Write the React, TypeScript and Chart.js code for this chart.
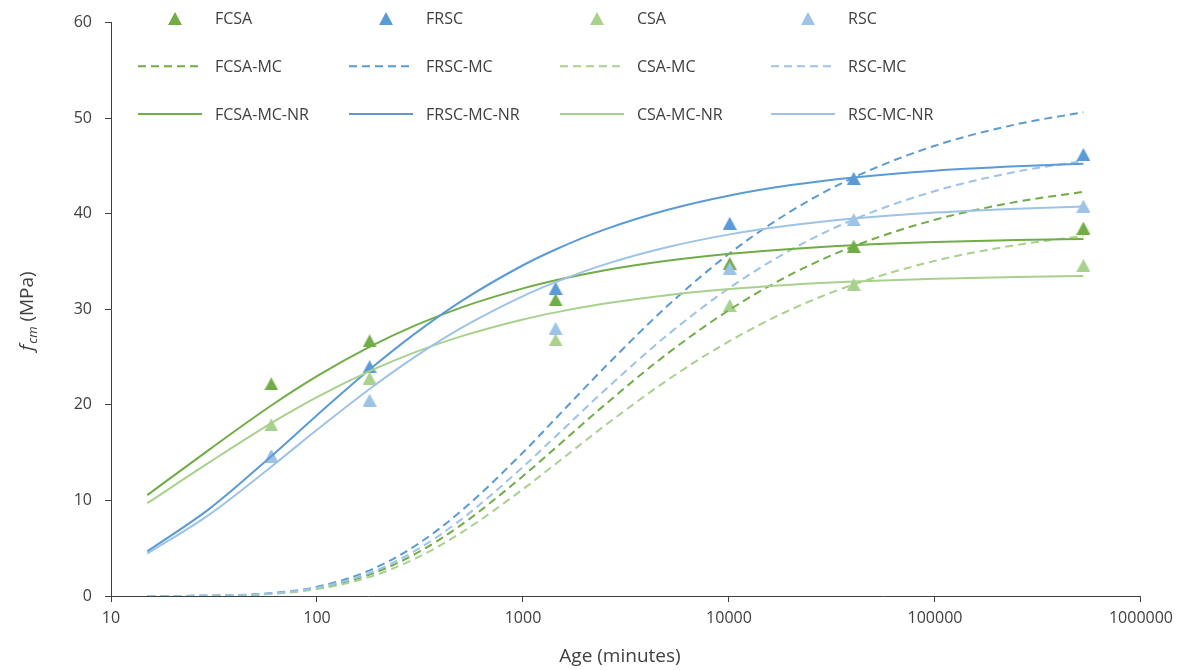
import React, { useEffect, useRef } from "react";
import { Chart, registerables } from "chart.js";

Chart.register(...registerables);

// Test ages (minutes) and measured strengths (MPa)
const AGE_TEST = [60, 180, 1440, 10080, 40320, 525600];
const FCSA = [22.2, 26.7, 31.0, 34.8, 36.6, 38.5];
const FRSC = [14.6, 24.0, 32.2, 39.0, 43.7, 46.2];
const CSA = [17.9, 22.8, 26.8, 30.4, 32.6, 34.6];
const RSC = [14.6, 20.5, 28.0, 34.3, 39.4, 40.8];

// Model curves (minutes)
const AGE_MODEL = [15, 30, 60, 100, 180, 300, 500, 1000, 1440, 2500, 5000, 10080, 20000, 40320, 100000, 250000, 525600];
const FCSA_MC = [0.0, 0.03, 0.25, 0.81, 2.24, 4.4, 7.42, 12.55, 15.51, 20.02, 25.33, 29.96, 33.65, 36.6, 39.37, 41.25, 42.29];
const FRSC_MC = [0.0, 0.03, 0.3, 0.96, 2.68, 5.26, 8.88, 15.02, 18.57, 23.96, 30.31, 35.86, 40.27, 43.8, 47.12, 49.37, 50.62];
const CSA_MC = [0.0, 0.03, 0.22, 0.72, 1.99, 3.92, 6.61, 11.18, 13.82, 17.84, 22.56, 26.69, 29.98, 32.6, 35.07, 36.74, 37.67];
const RSC_MC = [0.0, 0.03, 0.27, 0.87, 2.41, 4.74, 7.99, 13.51, 16.7, 21.56, 27.27, 32.26, 36.23, 39.4, 42.38, 44.41, 45.53];
const FCSA_MC_NR = [10.56, 15.32, 19.93, 23.0, 26.06, 28.31, 30.18, 32.19, 33.04, 34.09, 35.08, 35.81, 36.32, 36.7, 37.03, 37.24, 37.36];
const FRSC_MC_NR = [4.67, 9.12, 14.63, 18.92, 23.69, 27.48, 30.83, 34.61, 36.26, 38.36, 40.39, 41.91, 43.0, 43.8, 44.51, 44.97, 45.22];
const CSA_MC_NR = [9.71, 13.98, 18.09, 20.81, 23.53, 25.52, 27.17, 28.94, 29.68, 30.6, 31.48, 32.12, 32.57, 32.9, 33.19, 33.38, 33.48];
const RSC_MC_NR = [4.43, 8.52, 13.53, 17.39, 21.66, 25.05, 28.03, 31.38, 32.84, 34.7, 36.49, 37.84, 38.79, 39.5, 40.12, 40.53, 40.75];

const X_TICKS = [10, 100, 1000, 10000, 100000, 1000000];
const Y_MIN = 0;
const Y_MAX = 60;
const Y_STEP = 10;

const X_TITLE = "Age (minutes)";
const Y_TITLE_MAIN = "f";
const Y_TITLE_SUB = "cm";
const Y_TITLE_REST = " (MPa)";

const C_FCSA = "#70AD47";
const C_FRSC = "#5B9BD5";
const C_CSA = "#A9D18E";
const C_RSC = "#9DC3E6";
const TEXT = "#404040";
const AXIS = "#3f3f3f";
const FONT = "'Open Sans'";

function triangle(color: string): HTMLCanvasElement {
  const c = document.createElement("canvas");
  c.width = 14;
  c.height = 13;
  const ctx = c.getContext("2d")!;
  ctx.fillStyle = color;
  ctx.beginPath();
  ctx.moveTo(7, 0);
  ctx.lineTo(14, 13);
  ctx.lineTo(0, 13);
  ctx.closePath();
  ctx.fill();
  return c;
}

const pts = (xs: number[], ys: number[]) => xs.map((x, i) => ({ x, y: ys[i] }));

const legendPlugin = {
  id: "gridLegend",
  afterDraw(chart: any) {
    const ctx = chart.ctx as CanvasRenderingContext2D;
    const ds = chart.data.datasets as any[];
    ctx.save();
    ctx.font = `16px ${FONT}`;
    ctx.fillStyle = TEXT;
    ctx.textBaseline = "middle";
    ctx.textAlign = "left";
    ds.forEach((d, i) => {
      const col = i % 4;
      const row = Math.floor(i / 4);
      const tx = 215 + col * 211;
      const ty = 18.5 + row * 47.75;
      if (d.showLine === false) {
        const img = d.pointStyle as HTMLCanvasElement;
        ctx.drawImage(img, tx - 40 - img.width / 2, ty - img.height / 2);
      } else {
        ctx.save();
        ctx.strokeStyle = d.borderColor;
        ctx.lineWidth = d.borderWidth;
        ctx.setLineDash(d.borderDash || []);
        ctx.beginPath();
        ctx.moveTo(tx - 77, ty);
        ctx.lineTo(tx - 13, ty);
        ctx.stroke();
        ctx.restore();
      }
      ctx.fillStyle = TEXT;
      ctx.fillText(d.label, tx, ty + 1);
    });
    ctx.restore();
  },
};

const titlesPlugin = {
  id: "axisTitles",
  afterDraw(chart: any) {
    const ctx = chart.ctx as CanvasRenderingContext2D;
    const area = chart.chartArea;
    ctx.save();
    ctx.fillStyle = TEXT;
    // x title
    ctx.font = `19px ${FONT}`;
    ctx.textAlign = "center";
    ctx.textBaseline = "middle";
    ctx.fillText(X_TITLE, (area.left + area.right) / 2 - 6, 657);
    // y title (rotated, with subscript)
    const fMain = `italic 19px ${FONT}`;
    const fSub = `italic 13px ${FONT}`;
    const fRest = `19px ${FONT}`;
    ctx.font = fMain;
    const w1 = ctx.measureText(Y_TITLE_MAIN).width;
    ctx.font = fSub;
    const w2 = ctx.measureText(Y_TITLE_SUB).width;
    ctx.font = fRest;
    const w3 = ctx.measureText(Y_TITLE_REST).width;
    const total = w1 + w2 + w3 + 1;
    ctx.translate(26, 311);
    ctx.rotate(-Math.PI / 2);
    ctx.textAlign = "left";
    ctx.textBaseline = "alphabetic";
    let x0 = -total / 2;
    ctx.font = fMain;
    ctx.fillText(Y_TITLE_MAIN, x0, 7);
    x0 += w1 + 1;
    ctx.font = fSub;
    ctx.fillText(Y_TITLE_SUB, x0, 11);
    x0 += w2;
    ctx.font = fRest;
    ctx.fillText(Y_TITLE_REST, x0, 7);
    ctx.restore();
  },
};

export default function App() {
  const ref = useRef<HTMLCanvasElement | null>(null);

  useEffect(() => {
    if (!ref.current) return;
    const markerSet = (label: string, ys: number[], color: string, order: number) => ({
      label,
      data: pts(AGE_TEST, ys),
      showLine: false,
      pointStyle: triangle(color),
      pointRadius: 7,
      pointHoverRadius: 7,
      backgroundColor: color,
      borderColor: color,
      order,
    });
    const lineSet = (label: string, ys: number[], color: string, dashed: boolean, order: number) => ({
      label,
      data: pts(AGE_MODEL, ys),
      showLine: true,
      borderColor: color,
      backgroundColor: color,
      borderWidth: 2,
      borderDash: dashed ? [8, 5] : [],
      pointRadius: 0,
      pointHoverRadius: 0,
      cubicInterpolationMode: "monotone",
      fill: false,
      order,
    });

    const datasets: any[] = [
      markerSet("FCSA", FCSA, C_FCSA, 20),
      markerSet("FRSC", FRSC, C_FRSC, 19),
      markerSet("CSA", CSA, C_CSA, 18),
      markerSet("RSC", RSC, C_RSC, 17),
      lineSet("FCSA-MC", FCSA_MC, C_FCSA, true, 16),
      lineSet("FRSC-MC", FRSC_MC, C_FRSC, true, 15),
      lineSet("CSA-MC", CSA_MC, C_CSA, true, 14),
      lineSet("RSC-MC", RSC_MC, C_RSC, true, 13),
      lineSet("FCSA-MC-NR", FCSA_MC_NR, C_FCSA, false, 12),
      lineSet("FRSC-MC-NR", FRSC_MC_NR, C_FRSC, false, 11),
      lineSet("CSA-MC-NR", CSA_MC_NR, C_CSA, false, 10),
      lineSet("RSC-MC-NR", RSC_MC_NR, C_RSC, false, 9),
    ];

    const chart = new Chart(ref.current, {
      type: "scatter",
      data: { datasets },
      options: {
        animation: false,
        responsive: true,
        maintainAspectRatio: false,
        layout: { padding: { top: 19, right: 37, left: 0, bottom: 0 } },
        plugins: {
          legend: { display: false },
          tooltip: { enabled: false },
          title: { display: false },
        },
        scales: {
          x: {
            type: "logarithmic",
            min: X_TICKS[0],
            max: X_TICKS[X_TICKS.length - 1],
            afterBuildTicks: (s: any) => {
              s.ticks = X_TICKS.map((v) => ({ value: v }));
            },
            afterFit: (s: any) => {
              s.height = 74;
            },
            grid: {
              display: true,
              drawOnChartArea: false,
              drawTicks: true,
              tickLength: 6,
              color: AXIS,
              lineWidth: 1,
            },
            border: { display: true, color: AXIS, width: 1 },
            ticks: {
              autoSkip: false,
              maxRotation: 0,
              padding: 7,
              color: TEXT,
              font: { family: "Open Sans", size: 16 },
              callback: (v: any) => String(v),
            },
            title: { display: false },
          },
          y: {
            type: "linear",
            min: Y_MIN,
            max: Y_MAX,
            afterFit: (s: any) => {
              s.width = 111;
            },
            grid: {
              display: true,
              drawOnChartArea: false,
              drawTicks: true,
              tickLength: 6,
              color: AXIS,
              lineWidth: 1,
            },
            border: { display: true, color: AXIS, width: 1 },
            ticks: {
              stepSize: Y_STEP,
              padding: 13,
              color: TEXT,
              font: { family: "Open Sans", size: 16 },
            },
            title: { display: false },
          },
        },
      },
      plugins: [legendPlugin, titlesPlugin],
    } as any);

    return () => chart.destroy();
  }, []);

  return (
    <div style={{ position: "fixed", left: 0, top: 0, width: 1180, height: 670, background: "#ffffff" }}>
      <canvas ref={ref} />
    </div>
  );
}
